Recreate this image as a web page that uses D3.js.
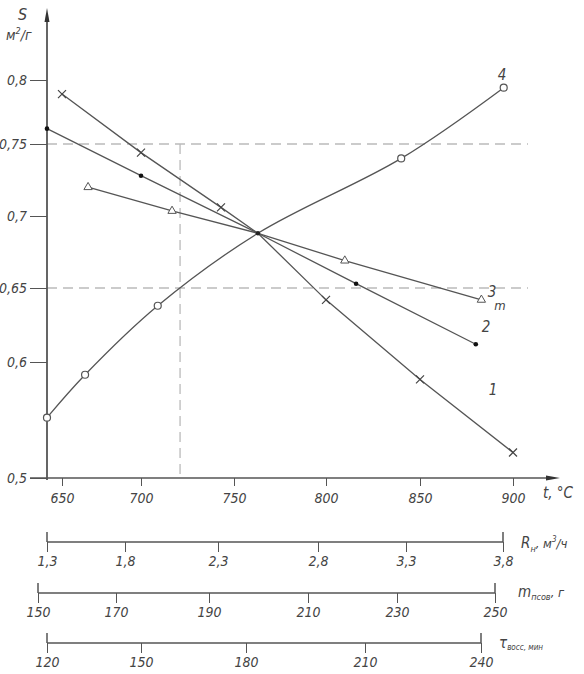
<!DOCTYPE html>
<html><head><meta charset="utf-8">
<script src="https://cdn.jsdelivr.net/npm/d3@7"></script>
<style>
body{margin:0;background:#fff}
text{font-family:"Liberation Sans Narrow","DejaVu Sans Condensed",sans-serif;font-style:italic;fill:#444}
</style></head><body>
<svg id="c" width="584" height="674"></svg>
<script>
// ---- data ----
const yTicks = [0.5, 0.6, 0.65, 0.7, 0.75, 0.8];
const xTicks = [650, 700, 750, 800, 850, 900];
// series 1 (x markers)
const t1 = [650, 700, 743, 763, 800, 850, 900];
const s1 = [0.789, 0.744, 0.706, 0.688, 0.642, 0.585, 0.522];
// series 2 (filled dots)
const t2 = [640.5, 700, 763, 816, 880];
const s2 = [0.762, 0.728, 0.688, 0.653, 0.612];
// series 3 (triangles)
const t3 = [666.5, 716.7, 763, 810, 883];
const s3 = [0.720, 0.7035, 0.688, 0.669, 0.642];
// series 4 (open circles)
const t4 = [640.5, 664.6, 709, 763, 840, 895];
const s4 = [0.552, 0.589, 0.638, 0.688, 0.740, 0.794];
// common crossing point
const crossT = 763, crossS = 0.688;
// reference lines
const refS = [0.75, 0.65];
const refT = 721;
// auxiliary scales
const rTicks = [1.3, 1.8, 2.3, 2.8, 3.3, 3.8];
const mTicks = [150, 170, 190, 210, 230, 250];
const tauTicks = [120, 150, 180, 210, 240];

const svg = d3.select("#c");
const ink = "#555";
const y = d3.scaleLinear().domain(yTicks).range([478, 362, 288, 216, 144, 80]);
const x = d3.scaleLinear().domain(xTicks).range([62, 141, 234, 326, 420, 513]);
const fmt = d => String(d).replace(".", ",");

// reference dashed lines
refS.forEach(v => svg.append("line").attr("x1", 47).attr("x2", 528)
  .attr("y1", y(v)).attr("y2", y(v))
  .attr("stroke", "#bbb").attr("stroke-width", 1.3).attr("stroke-dasharray", "10,6"));
svg.append("line").attr("x1", x(refT)).attr("x2", x(refT))
  .attr("y1", y(0.75)).attr("y2", y(0.5))
  .attr("stroke", "#bbb").attr("stroke-width", 1.3).attr("stroke-dasharray", "10,6");

// y axis
const ya = svg.append("g").attr("transform", "translate(47,0)")
  .call(d3.axisLeft(y).tickValues(yTicks).tickSize(17).tickPadding(3).tickFormat(fmt));
ya.select(".domain").remove();
ya.selectAll("line").attr("stroke", ink);
ya.selectAll("text").style("font-size", "14px").style("font-family", null).attr("fill", "#444");
svg.append("line").attr("x1", 47).attr("x2", 47).attr("y1", 480).attr("y2", 14)
  .attr("stroke", ink).attr("stroke-width", 1.8);
svg.append("path").attr("d", "M47,8 L44.5,22 L49.5,22 Z").attr("fill", "#333");

// x axis
const xa = svg.append("g").attr("transform", "translate(0,478)")
  .call(d3.axisBottom(x).tickValues(xTicks).tickSize(8).tickPadding(7).tickFormat(fmt));
xa.select(".domain").remove();
xa.selectAll("line").attr("stroke", ink);
xa.selectAll("text").style("font-size", "14px").style("font-family", null).attr("fill", "#444");
svg.append("line").attr("x1", 30).attr("x2", 552).attr("y1", 478).attr("y2", 478)
  .attr("stroke", ink).attr("stroke-width", 1.5);
svg.append("path").attr("d", "M560,478 L546,475.5 L546,480.5 Z").attr("fill", "#333");
svg.append("text").attr("x", 543).attr("y", 498).style("font-size", "15px").text("t, °C");

// axis title
svg.append("text").attr("x", 18).attr("y", 20).style("font-size", "16px").text("S");
const yt = svg.append("text").attr("x", 6).attr("y", 40).style("font-size", "14px");
yt.append("tspan").text("м");
yt.append("tspan").attr("dy", -6).style("font-size", "9px").text("2");
yt.append("tspan").attr("dy", 6).text("/г");

// series lines
const line = d3.line().x(d => x(d[0])).y(d => y(d[1]));
const zip = (a, b) => a.map((v, i) => [v, b[i]]);
const lc = "#555";
[[t1, s1], [t2, s2], [t3, s3]].forEach(([a, b]) =>
  svg.append("path").datum(zip(a, b)).attr("d", line).attr("fill", "none")
    .attr("stroke", lc).attr("stroke-width", 1.3));
svg.append("path").datum(zip(t4, s4))
  .attr("d", d3.line().x(d => x(d[0])).y(d => y(d[1])).curve(d3.curveCatmullRom.alpha(0.5)))
  .attr("fill", "none").attr("stroke", lc).attr("stroke-width", 1.3);

// markers
const notCross = p => p[0] !== crossT;
zip(t1, s1).filter(notCross).forEach(p => {
  const cx = x(p[0]), cy = y(p[1]), r = 4;
  svg.append("path").attr("d", `M${cx-r},${cy-r}L${cx+r},${cy+r}M${cx-r},${cy+r}L${cx+r},${cy-r}`)
    .attr("stroke", "#444").attr("stroke-width", 1.2);
});
zip(t2, s2).filter(notCross).forEach(p =>
  svg.append("circle").attr("cx", x(p[0])).attr("cy", y(p[1])).attr("r", 2.3).attr("fill", "#111"));
zip(t3, s3).filter(notCross).forEach(p =>
  svg.append("path").attr("d", d3.symbol(d3.symbolTriangle, 30)())
    .attr("transform", `translate(${x(p[0])},${y(p[1])})`)
    .attr("fill", "#fff").attr("stroke", "#555").attr("stroke-width", 1));
zip(t4, s4).filter(notCross).forEach(p =>
  svg.append("circle").attr("cx", x(p[0])).attr("cy", y(p[1])).attr("r", 3.5)
    .attr("fill", "#fff").attr("stroke", "#555").attr("stroke-width", 1.2));
svg.append("circle").attr("cx", x(crossT)).attr("cy", y(crossS)).attr("r", 2.2).attr("fill", "#222");

// curve labels
const lab = (t, px, py, fs) => svg.append("text").attr("x", px).attr("y", py)
  .attr("text-anchor", "middle").style("font-size", (fs || 15) + "px").text(t);
lab("4", 502, 80); lab("3", 492, 297); lab("m", 500, 310, 13); lab("2", 486, 332); lab("1", 493, 395);

// auxiliary axes
function aux(vals, range, yy, titleParts, tx, ty) {
  const s = d3.scaleLinear().domain(vals).range(range);
  const g = svg.append("g").attr("transform", `translate(0,${yy})`)
    .call(d3.axisBottom(s).tickValues(vals).tickSize(10).tickPadding(4).tickFormat(fmt));
  g.select(".domain").remove();
  g.selectAll("line").attr("stroke", ink);
  g.selectAll("text").style("font-size", "14px").style("font-family", null).attr("fill", "#444");
  svg.append("line").attr("x1", s(vals[0])).attr("x2", s(vals[vals.length - 1]))
    .attr("y1", yy).attr("y2", yy).attr("stroke", ink).attr("stroke-width", 1.5);
  [vals[0], vals[vals.length - 1]].forEach(v =>
    svg.append("line").attr("x1", s(v)).attr("x2", s(v)).attr("y1", yy - 10).attr("y2", yy)
      .attr("stroke", ink).attr("stroke-width", 1.5));
  const t = svg.append("text").attr("x", tx).attr("y", ty).style("font-size", "14px");
  titleParts.forEach(([txt, dy, fs]) => t.append("tspan").attr("dy", dy).style("font-size", fs + "px").text(txt));
}
aux(rTicks, [47, 125, 218, 318, 406, 503], 542,
  [["R", 0, 15], ["н", 4, 9], [", м", -4, 13], ["3", -6, 8], ["/ч", 6, 13]], 521, 548);
aux(mTicks, [38, 116, 209, 308, 397, 495], 593,
  [["m", 0, 15], ["псов", 3, 9], [", г", -3, 13]], 518, 597);
aux(tauTicks, [47, 141, 246, 365, 481], 643,
  [["τ", 0, 15], ["восс, мин", 2, 8]], 499, 648);
</script>
</body></html>
